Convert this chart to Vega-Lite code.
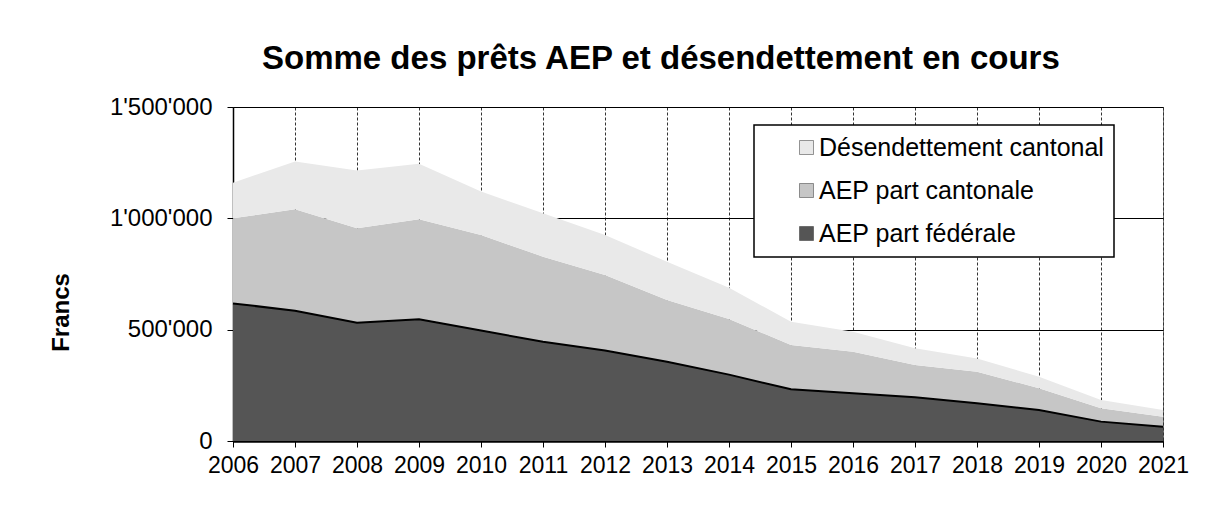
{
  "$schema": "https://vega.github.io/schema/vega-lite/v6.json",
  "width": 930,
  "height": 334,
  "autosize": {"type": "none"},
  "padding": {"left": 233, "top": 107, "right": 53, "bottom": 74},
  "background": "white",
  "config": {
    "font": "Liberation Sans",
    "view": {"stroke": "#777", "strokeWidth": 1},
    "legend": {"strokeWidth": 1.5}
  },
  "title": {
    "text": "Somme des prêts AEP et désendettement en cours",
    "font": "Liberation Sans",
    "fontSize": 33,
    "fontWeight": "bold",
    "color": "#000",
    "anchor": "start",
    "frame": "group",
    "dx": 29,
    "offset": 19
  },
  "data": {
    "values": [
      {"annee": 2006, "serie": "AEP part fédérale", "ordre": 1, "montant": 618000},
      {"annee": 2007, "serie": "AEP part fédérale", "ordre": 1, "montant": 585000},
      {"annee": 2008, "serie": "AEP part fédérale", "ordre": 1, "montant": 531000},
      {"annee": 2009, "serie": "AEP part fédérale", "ordre": 1, "montant": 547000},
      {"annee": 2010, "serie": "AEP part fédérale", "ordre": 1, "montant": 496000},
      {"annee": 2011, "serie": "AEP part fédérale", "ordre": 1, "montant": 446000},
      {"annee": 2012, "serie": "AEP part fédérale", "ordre": 1, "montant": 406000},
      {"annee": 2013, "serie": "AEP part fédérale", "ordre": 1, "montant": 356000},
      {"annee": 2014, "serie": "AEP part fédérale", "ordre": 1, "montant": 298000},
      {"annee": 2015, "serie": "AEP part fédérale", "ordre": 1, "montant": 232000},
      {"annee": 2016, "serie": "AEP part fédérale", "ordre": 1, "montant": 214000},
      {"annee": 2017, "serie": "AEP part fédérale", "ordre": 1, "montant": 196000},
      {"annee": 2018, "serie": "AEP part fédérale", "ordre": 1, "montant": 169000},
      {"annee": 2019, "serie": "AEP part fédérale", "ordre": 1, "montant": 139000},
      {"annee": 2020, "serie": "AEP part fédérale", "ordre": 1, "montant": 87000},
      {"annee": 2021, "serie": "AEP part fédérale", "ordre": 1, "montant": 64000},
      {"annee": 2006, "serie": "AEP part cantonale", "ordre": 2, "montant": 382000},
      {"annee": 2007, "serie": "AEP part cantonale", "ordre": 2, "montant": 456000},
      {"annee": 2008, "serie": "AEP part cantonale", "ordre": 2, "montant": 424000},
      {"annee": 2009, "serie": "AEP part cantonale", "ordre": 2, "montant": 449000},
      {"annee": 2010, "serie": "AEP part cantonale", "ordre": 2, "montant": 429000},
      {"annee": 2011, "serie": "AEP part cantonale", "ordre": 2, "montant": 382000},
      {"annee": 2012, "serie": "AEP part cantonale", "ordre": 2, "montant": 340000},
      {"annee": 2013, "serie": "AEP part cantonale", "ordre": 2, "montant": 277000},
      {"annee": 2014, "serie": "AEP part cantonale", "ordre": 2, "montant": 250000},
      {"annee": 2015, "serie": "AEP part cantonale", "ordre": 2, "montant": 199000},
      {"annee": 2016, "serie": "AEP part cantonale", "ordre": 2, "montant": 187000},
      {"annee": 2017, "serie": "AEP part cantonale", "ordre": 2, "montant": 145000},
      {"annee": 2018, "serie": "AEP part cantonale", "ordre": 2, "montant": 142000},
      {"annee": 2019, "serie": "AEP part cantonale", "ordre": 2, "montant": 98000},
      {"annee": 2020, "serie": "AEP part cantonale", "ordre": 2, "montant": 60000},
      {"annee": 2021, "serie": "AEP part cantonale", "ordre": 2, "montant": 45000},
      {"annee": 2006, "serie": "Désendettement cantonal", "ordre": 3, "montant": 160000},
      {"annee": 2007, "serie": "Désendettement cantonal", "ordre": 3, "montant": 214000},
      {"annee": 2008, "serie": "Désendettement cantonal", "ordre": 3, "montant": 260000},
      {"annee": 2009, "serie": "Désendettement cantonal", "ordre": 3, "montant": 249000},
      {"annee": 2010, "serie": "Désendettement cantonal", "ordre": 3, "montant": 195000},
      {"annee": 2011, "serie": "Désendettement cantonal", "ordre": 3, "montant": 195000},
      {"annee": 2012, "serie": "Désendettement cantonal", "ordre": 3, "montant": 179000},
      {"annee": 2013, "serie": "Désendettement cantonal", "ordre": 3, "montant": 172000},
      {"annee": 2014, "serie": "Désendettement cantonal", "ordre": 3, "montant": 140000},
      {"annee": 2015, "serie": "Désendettement cantonal", "ordre": 3, "montant": 105000},
      {"annee": 2016, "serie": "Désendettement cantonal", "ordre": 3, "montant": 90000},
      {"annee": 2017, "serie": "Désendettement cantonal", "ordre": 3, "montant": 75000},
      {"annee": 2018, "serie": "Désendettement cantonal", "ordre": 3, "montant": 60000},
      {"annee": 2019, "serie": "Désendettement cantonal", "ordre": 3, "montant": 52000},
      {"annee": 2020, "serie": "Désendettement cantonal", "ordre": 3, "montant": 37000},
      {"annee": 2021, "serie": "Désendettement cantonal", "ordre": 3, "montant": 30000}
    ]
  },
  "layer": [
    {
      "mark": {"type": "area", "opacity": 1},
      "encoding": {
        "x": {
          "field": "annee",
          "type": "quantitative",
          "scale": {"domain": [2006, 2021], "nice": false, "zero": false},
          "axis": {
            "title": null,
            "values": [2006, 2007, 2008, 2009, 2010, 2011, 2012, 2013, 2014, 2015, 2016, 2017, 2018, 2019, 2020, 2021],
            "format": "d",
            "labelFontSize": 23,
            "labelColor": "#000",
            "labelPadding": 7,
            "labelFlush": false,
            "labelOverlap": false,
            "tickSize": 6,
            "tickColor": "#000",
            "domainColor": "#000",
            "domainWidth": 2.5,
            "grid": true,
            "gridColor": "#333",
            "gridDash": [3, 2],
            "gridWidth": 1
          }
        },
        "y": {
          "field": "montant",
          "type": "quantitative",
          "stack": "zero",
          "scale": {"domain": [0, 1500000], "nice": false},
          "axis": {
            "title": "Francs",
            "titleFontSize": 24,
            "titleFontWeight": "bold",
            "titleColor": "#000",
            "titleAngle": 270,
            "titleAlign": "center",
            "titleBaseline": "middle",
            "titleX": -172,
            "titleY": 205,
            "values": [0, 500000, 1000000, 1500000],
            "labelExpr": "replace(format(datum.value, ',d'), /,/g, \"'\")",
            "labelFontSize": 24,
            "labelColor": "#000",
            "labelPadding": 15,
            "tickSize": 6,
            "tickColor": "#000",
            "domainColor": "#000",
            "domainWidth": 1.5,
            "grid": true,
            "gridColor": "#000",
            "gridWidth": 1
          }
        },
        "color": {
          "field": "serie",
          "type": "nominal",
          "scale": {
            "domain": ["Désendettement cantonal", "AEP part cantonale", "AEP part fédérale"],
            "range": ["#e9e9e9", "#c6c6c6", "#555555"]
          },
          "legend": {
            "title": null,
            "orient": "none",
            "legendX": 521,
            "legendY": 18,
            "direction": "vertical",
            "symbolType": "square",
            "symbolSize": 196,
            "symbolOpacity": 1,
            "symbolStrokeColor": "#333",
            "symbolStrokeWidth": 0.5,
            "symbolOffset": 30,
            "labelFontSize": 25,
            "labelColor": "#000",
            "labelOffset": 0,
            "labelLimit": 600,
            "labelExpr": "datum.label + '\u00a0\u00a0\u00a0\u00a0\u00a0\u00a0'",
            "rowPadding": 17,
            "padding": 10,
            "strokeColor": "#000",
            "fillColor": "#fff"
          }
        },
        "order": {"field": "ordre", "type": "quantitative", "sort": "ascending"}
      }
    },
    {
      "transform": [{"filter": "datum.ordre == 1"}],
      "mark": {"type": "line", "color": "#000", "strokeWidth": 2},
      "encoding": {
        "x": {"field": "annee", "type": "quantitative"},
        "y": {"field": "montant", "type": "quantitative"}
      }
    }
  ]
}
